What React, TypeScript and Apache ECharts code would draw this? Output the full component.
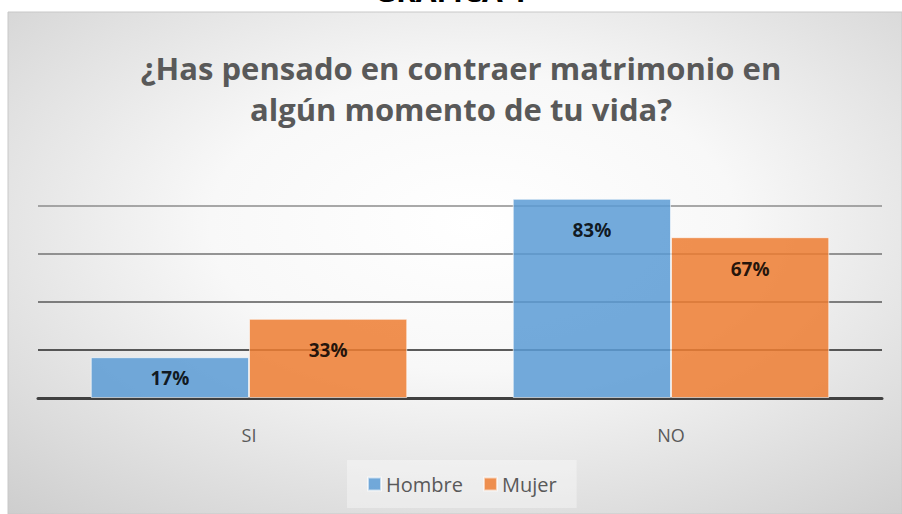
import React, { useEffect, useRef } from "react";
import * as echarts from "echarts";

const categories = ["SI", "NO"];
const hombre = [0.17, 0.83];
const mujer = [0.33, 0.67];
const seriesNames = ["Hombre", "Mujer"];
const titleText = "¿Has pensado en contraer matrimonio en\nalgún momento de tu vida?";
const topText = "GRÁFICA 1";

const FONT = "'Open Sans', 'Noto Sans', sans-serif";

export default function App() {
  const ref = useRef<HTMLDivElement>(null);
  useEffect(() => {
    if (!ref.current) return;
    const chart = echarts.init(ref.current, undefined, { renderer: "svg" });
    const labelBase = {
      show: true,
      position: "insideTop",
      distance: 22,
      color: "#000",
      fontWeight: "bold",
      fontSize: 19,
      fontFamily: FONT,
      formatter: (p: any) => Math.round(p.value * 100) + "%",
    };
    const mkData = (arr: number[]) =>
      arr.map((v) =>
        v < 0.2 ? { value: v, label: { position: "inside" } } : { value: v }
      );
    chart.setOption({
      animation: false,
      graphic: [
        {
          type: "rect",
          z: -10,
          silent: true,
          shape: { x: 8, y: 12, width: 894, height: 502 },
          style: {
            fill: new echarts.graphic.RadialGradient(0.52, 0.42, 0.98, [
              { offset: 0, color: "#ffffff" },
              { offset: 0.3, color: "#f8f8f8" },
              { offset: 1, color: "#bcbcbc" },
            ]),
            stroke: "#c8c8c8",
            lineWidth: 1,
          },
        },
        {
          type: "text",
          left: "center",
          top: -25,
          z: 10,
          style: {
            text: topText,
            font: "bold 30px " + FONT,
            fill: "#000",
          },
        },
        {
          type: "text",
          x: 461,
          y: 47,
          z: 10,
          style: {
            text: titleText,
            align: "center",
            verticalAlign: "top",
            font: "bold 31px " + FONT,
            lineHeight: 41,
            fill: "#595959",
          },
        },
      ],
      legend: {
        data: seriesNames,
        left: 347,
        top: 460,
        icon: "rect",
        itemWidth: 13,
        itemHeight: 13,
        itemGap: 20,
        padding: [14, 20, 14, 20],
        backgroundColor: "rgba(255,255,255,0.35)",
        textStyle: { fontFamily: FONT, fontSize: 20, color: "#595959" },
      },
      grid: { left: 38, right: 20, top: 158, bottom: 116 },
      xAxis: {
        type: "category",
        data: categories,
        axisLine: { lineStyle: { color: "#404040", width: 3 } },
        axisTick: { show: false },
        axisLabel: {
          margin: 28,
          fontFamily: FONT,
          fontSize: 18,
          color: "#595959",
        },
      },
      yAxis: {
        type: "value",
        min: 0,
        max: 1,
        interval: 0.2,
        axisLabel: { show: false },
        axisLine: { show: false },
        axisTick: { show: false },
        splitLine: {
          show: true,
          showMinLine: false,
          showMaxLine: false,
          lineStyle: {
            color: ["#262626", "#595959", "#737373", "#8c8c8c"],
            width: 1.5,
          },
        },
      },
      series: [
        {
          name: seriesNames[0],
          type: "bar",
          data: mkData(hombre),
          barGap: "0%",
          barCategoryGap: "25%",
          itemStyle: {
            color: "#5B9BD5",
            opacity: 0.85,
            borderColor: "rgba(255,255,255,0.7)",
            borderWidth: 1,
          },
          label: labelBase,
        },
        {
          name: seriesNames[1],
          type: "bar",
          data: mkData(mujer),
          itemStyle: {
            color: "#ED7D31",
            opacity: 0.85,
            borderColor: "rgba(255,255,255,0.7)",
            borderWidth: 1,
          },
          label: labelBase,
        },
      ],
    });
    return () => chart.dispose();
  }, []);
  return (
    <div
      ref={ref}
      style={{ position: "absolute", left: 0, top: 0, width: 902, height: 514 }}
    />
  );
}
